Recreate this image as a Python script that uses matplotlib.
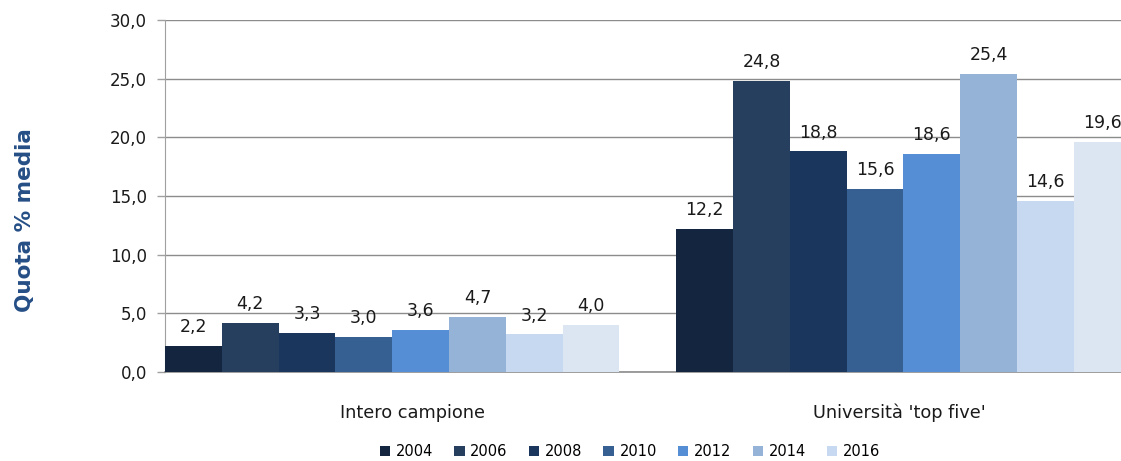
import matplotlib.pyplot as plt
import numpy as np

plt.rcParams['font.family'] = ['DejaVu Sans']

categories = ["Intero campione", "Università 'top five'"]
years = ["2004", "2006", "2008", "2010", "2012", "2014", "2016", "2018"]
colors = ["#14253F", "#263F5F", "#1B365D", "#376092", "#558ED5",
          "#95B3D7", "#C6D9F1", "#DCE6F2"]
intero = [2.2, 4.2, 3.3, 3.0, 3.6, 4.7, 3.2, 4.0]
top_five = [12.2, 24.8, 18.8, 15.6, 18.6, 25.4, 14.6, 19.6]
yticks = [0, 5, 10, 15, 20, 25, 30]

fig = plt.figure(figsize=(11.21, 4.61), dpi=100)
ax = fig.add_axes([0.1472, 0.193, 0.8528, 0.7636])

x1 = np.arange(8)
x2 = np.arange(8) + 9
for i, yr in enumerate(years):
    # last series is not shown in the legend of the original
    lab = yr if i < 7 else "_" + yr
    vals = [intero[i], top_five[i]]
    xs = [x1[i], x2[i]]
    ax.bar(xs, vals, width=1.0, color=colors[i], label=lab, zorder=3)
    for xx, v in zip(xs, vals):
        ax.annotate(f"{v:.1f}".replace(".", ","), (xx, v), xytext=(0, 10),
                    textcoords="offset points", ha="center", va="baseline",
                    fontsize=12.5, color="#1a1a1a", zorder=4)

ax.set_xlim(-0.5, 16.33)
ax.set_ylim(0, 30)
ax.set_yticks(yticks)
ax.set_yticklabels([f"{t:.1f}".replace(".", ",") for t in yticks], fontsize=12, color="#1a1a1a")
ax.set_xticks([3.85, 12.42])
ax.set_xticklabels(categories, fontsize=12.8, color="#1a1a1a")
ax.tick_params(axis="x", length=0, pad=23)
ax.tick_params(axis="y", length=6, width=1, color="#a0a0a0", pad=7)
ax.yaxis.grid(True, color="#8c8c8c", linewidth=1, zorder=0)
for s in ["top", "right"]:
    ax.spines[s].set_visible(False)
ax.spines["left"].set_color("#a0a0a0")
ax.spines["bottom"].set_color("#8c8c8c")
ax.spines["bottom"].set_linewidth(1.2)

ax.set_ylabel("Quota % media", fontsize=15.5, fontweight="bold", color="#254E86")
ax.yaxis.set_label_coords(-0.136, 0.432)

fig.legend(loc="center", bbox_to_anchor=(0.562, 0.02), ncol=7, frameon=False,
           fontsize=10.5, handlelength=0.7, handleheight=0.7, handletextpad=0.4,
           columnspacing=1.45)

fig.savefig("out.png", dpi=100)
